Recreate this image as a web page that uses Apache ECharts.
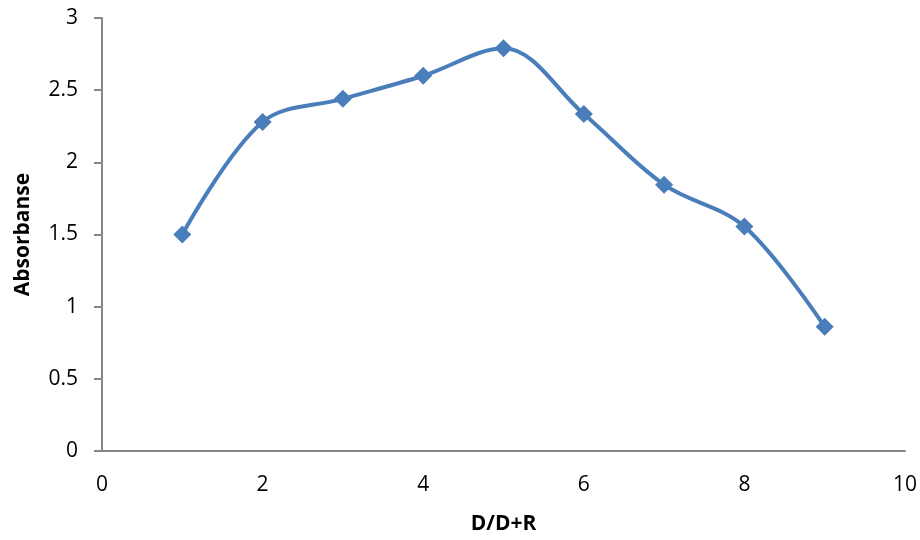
<!DOCTYPE html>
<html><head><meta charset="utf-8">
<script src="https://cdn.jsdelivr.net/npm/echarts@6/dist/echarts.min.js"></script>
<style>html,body{margin:0;padding:0;background:#fff}#c{width:920px;height:540px}</style>
</head><body><div id="c"></div>
<script>
const xValues = [1, 2, 3, 4, 5, 6, 7, 8, 9];
const absorbance = [1.50, 2.28, 2.44, 2.60, 2.79, 2.335, 1.845, 1.555, 0.86];
const xTitle = 'D/D+R';
const yTitle = 'Absorbanse';

const chart = echarts.init(document.getElementById('c'));
const font = "'Open Sans', 'Liberation Sans', sans-serif";
chart.setOption({
  animation: false,
  grid: { left: 102, right: 14, top: 18, bottom: 89, containLabel: false },
  xAxis: {
    type: 'value', min: 0, max: 10, interval: 2,
    name: xTitle, nameLocation: 'middle', nameGap: 63,
    nameTextStyle: { fontFamily: font, fontWeight: 'bold', fontSize: 21, color: '#000' },
    axisLine: { show: true, lineStyle: { color: '#868686', width: 2 } },
    axisTick: { show: false },
    axisLabel: { fontFamily: font, fontSize: 21, color: '#000', margin: 24 },
    splitLine: { show: false }
  },
  yAxis: {
    type: 'value', min: 0, max: 3, interval: 0.5,
    name: yTitle, nameLocation: 'middle', nameGap: 68, nameRotate: 90,
    nameTextStyle: { fontFamily: font, fontWeight: 'bold', fontSize: 21, color: '#000' },
    axisLine: { show: true, lineStyle: { color: '#868686', width: 2 } },
    axisTick: { show: true, inside: false, length: 8, lineStyle: { color: '#868686', width: 2 } },
    axisLabel: { fontFamily: font, fontSize: 21, color: '#000', margin: 24 },
    splitLine: { show: false }
  },
  series: [{
    type: 'line',
    data: xValues.map((x, i) => [x, absorbance[i]]),
    smooth: 0.35,
    symbol: 'diamond', symbolSize: 18,
    lineStyle: { color: '#4a7ebb', width: 4 },
    itemStyle: { color: '#4a7ebb' }
  }]
});
</script></body></html>
